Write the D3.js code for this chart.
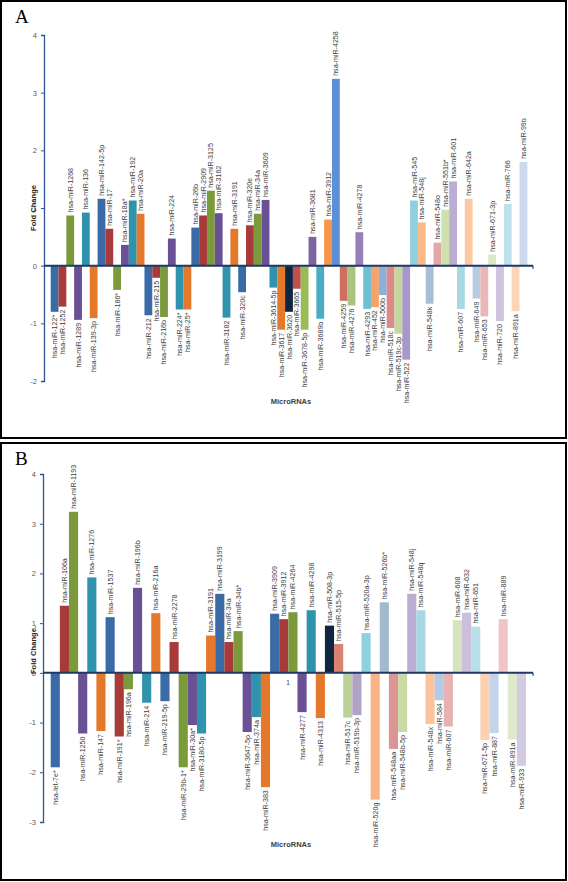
<!DOCTYPE html>
<html><head><meta charset="utf-8">
<script src="https://cdn.jsdelivr.net/npm/d3@7"></script>
<style>body{margin:0;background:#fff}svg{display:block}</style>
</head><body>
<script>
// ---------- DATA ----------
const catsA = ["hsa-miR-122*","hsa-miR-1252","hsa-miR-1268","hsa-miR-1289","hsa-miR-136","hsa-miR-139-3p","hsa-miR-142-5p","hsa-miR-17","hsa-miR-186*","hsa-miR-18a*","hsa-miR-192","hsa-miR-20a","hsa-miR-212","hsa-miR-215","hsa-miR-216b","hsa-miR-224","hsa-miR-224*","hsa-miR-25*","hsa-miR-26b","hsa-miR-2909","hsa-miR-3125","hsa-miR-3162","hsa-miR-3182","hsa-miR-3191","hsa-miR-320c","hsa-miR-320e","hsa-miR-34a","hsa-miR-3609","hsa-miR-3614-5p","hsa-miR-3617","hsa-miR-3620","hsa-miR-3665","hsa-miR-3678-5p","hsa-miR-3681","hsa-miR-3689b","hsa-miR-3912","hsa-miR-4258","hsa-miR-4259","hsa-miR-4276","hsa-miR-4278","hsa-miR-4293","hsa-miR-452","hsa-miR-500b","hsa-miR-518c","hsa-miR-519c-3p","hsa-miR-522","hsa-miR-545","hsa-miR-548j","hsa-miR-548k","hsa-miR-548o","hsa-miR-551b*","hsa-miR-601","hsa-miR-607","hsa-miR-642a","hsa-miR-649","hsa-miR-653","hsa-miR-671-3p","hsa-miR-720","hsa-miR-766","hsa-miR-891a","hsa-miR-99b"];
const valsA = [-0.80,-0.71,0.87,-0.94,0.92,-0.91,1.16,0.64,-0.42,0.36,1.13,0.90,-0.86,-0.21,-0.89,0.47,-0.76,-0.76,0.66,0.87,1.30,0.91,-0.90,0.64,-0.46,0.70,0.90,1.14,-0.38,-1.11,-0.80,-0.40,-1.11,0.50,-0.92,0.80,3.24,-0.61,-0.69,0.58,-0.75,-0.72,-0.51,-1.08,-1.18,-1.63,1.13,0.75,-0.66,0.40,0.97,1.46,-0.75,1.16,-0.57,-0.88,0.19,-0.96,1.07,-0.79,1.80];

const catsB = ["hsa-let-7e*","hsa-miR-106a","hsa-miR-1193","hsa-miR-1250","hsa-miR-1276","hsa-miR-147","hsa-miR-1537","hsa-miR-191*","hsa-miR-196a","hsa-miR-196b","hsa-miR-214","hsa-miR-216a","hsa-miR-219-5p","hsa-miR-2278","hsa-miR-29b-1*","hsa-miR-30a*","hsa-miR-3180-5p","hsa-miR-3191","hsa-miR-3199","hsa-miR-34a","hsa-miR-34b*","hsa-miR-3647-5p","hsa-miR-374a","hsa-miR-383","hsa-miR-3909","hsa-miR-3912","hsa-miR-4264","hsa-miR-4277","hsa-miR-4298","hsa-miR-4313","hsa-miR-508-3p","hsa-miR-515-5p","hsa-miR-517c","hsa-miR-519b-3p","hsa-miR-520a-3p","hsa-miR-520g","hsa-miR-526b*","hsa-miR-548aa","hsa-miR-548b-5p","hsa-miR-548j","hsa-miR-548q","hsa-miR-548x","hsa-miR-584","hsa-miR-607","hsa-miR-608","hsa-miR-632","hsa-miR-651","hsa-miR-671-5p","hsa-miR-887","hsa-miR-889","hsa-miR-891a","hsa-miR-933"];
const valsB = [-1.90,1.35,3.24,-1.22,1.92,-1.17,1.12,-1.28,-0.33,1.71,-0.60,1.20,-0.57,0.62,-1.90,-1.05,-1.22,0.75,1.59,0.62,0.84,-1.19,-0.89,-2.30,1.19,1.08,1.22,-0.79,1.26,-0.91,0.95,0.58,-0.90,-0.85,0.80,-2.55,1.42,-1.53,-1.19,1.59,1.26,-1.03,-0.55,-1.08,1.06,1.21,0.93,-1.35,-1.21,1.08,-1.34,-1.87];

const yTicksA = [4,3,2,1,0,-1,-2];
const yTicksB = [4,3,2,1,0,-1,-2,-3];
const yTitleA = "Fold Change";
const yTitleB = "Fold Change.";
const xTitle = "MicroRNAs";

// ---------- STYLES ----------
const darkCycle = ["#3b6ba6","#a83b39","#7b9a3c","#6a5094","#2f93ad","#e5792b"];
const tailA = ["#0f2540","#c0504d","#9bbb59","#8064a2","#4bacc6","#f79646",
  "#5b8fd6","#cf6f60","#aac47e","#9680b8","#6fbfd4","#f7a266",
  "#8fafd8","#dc8a88","#c4d79b","#a898c8","#8fd0e0","#f9ba8a",
  "#a8bdd6","#e2a7a6","#cfe0ad","#bcaed3","#a8d8e4","#fbc8a2",
  "#b8cbe2","#e8b7b6","#dbe8c3","#cec3dd","#bde2eb","#fcd4b6","#cdd9ef"];
const tailB = ["#0f2540","#d9826f","#bcd199","#b0a2c6","#8fd0e0","#fab483",
  "#a3b9cc","#dc9593","#c9dba5","#bcaed3","#a6d7e3","#fbc49d",
  "#b4c9e2","#e6b3b2","#d6e4bc","#cbbfdc","#b9e0ea","#fcd0b0",
  "#c3d3ea","#efc6c5","#dde9c8","#d3cbe3"];
function colorFor(i, tail){ return i < 30 ? darkCycle[i % 6] : tail[i - 30]; }

const W = 568, H = 882;
const svg = d3.select("body").append("svg").attr("width", W).attr("height", H)
  .style("font-family", "'Liberation Sans', Arial, sans-serif");

function panel(cfg){
  const g = svg.append("g");
  // frame
  g.append("rect").attr("x", 1).attr("y", cfg.top).attr("width", 565).attr("height", cfg.h)
    .attr("fill", "none").attr("stroke", "#000").attr("stroke-width", 2);
  g.append("text").attr("x", 15).attr("y", cfg.top + 22)
    .style("font-family", "'Liberation Serif','Times New Roman',serif")
    .style("font-size", "19px").attr("fill", "#000").text(cfg.letter);

  const y = d3.scaleLinear().domain(cfg.domain).range(cfg.yRange);
  const x = d3.scaleBand().domain(cfg.cats).range(cfg.xRange).padding(0);
  const y0 = y(0), bw = x.bandwidth();

  // y axis
  const ax = g.append("g").attr("transform", `translate(${cfg.axisX},0)`)
    .call(d3.axisLeft(y).tickValues(cfg.ticks).tickSize(3).tickPadding(4).tickFormat(d => String(d)));
  ax.select(".domain").attr("stroke", "#2f5597").attr("stroke-width", 1.3);
  ax.selectAll(".tick line").attr("stroke", "#2f5597");
  ax.selectAll(".tick text").attr("fill", "#595959").style("font-size", "7.5px");

  // bars
  g.selectAll("rect.bar").data(cfg.vals).join("rect").attr("class", "bar")
    .attr("x", (d, i) => x(cfg.cats[i]))
    .attr("width", bw)
    .attr("y", d => Math.min(y(d), y0))
    .attr("height", d => Math.abs(y(d) - y0))
    .attr("fill", (d, i) => colorFor(i, cfg.tail));

  // x axis line at 0
  g.append("line").attr("x1", cfg.axisX).attr("x2", cfg.axisEnd).attr("y1", y0).attr("y2", y0)
    .attr("stroke", "#1f3864").attr("stroke-width", 2);
  g.append("line").attr("x1", cfg.axisEnd).attr("x2", cfg.axisEnd).attr("y1", y0).attr("y2", y0 + 3)
    .attr("stroke", "#1f3864").attr("stroke-width", 1.2);

  // labels
  g.selectAll("text.lbl").data(cfg.vals).join("text").attr("class", "lbl")
    .attr("transform", (d, i) => {
      const cx = x(cfg.cats[i]) + bw / 2;
      const cy = d >= 0 ? y(d) - 3 : y(d) + 3;
      return `translate(${cx},${cy}) rotate(-90)`;
    })
    .attr("dy", "0.35em")
    .attr("text-anchor", d => d >= 0 ? "start" : "end")
    .attr("fill", "#404040").style("font-size", "7.1px")
    .text((d, i) => cfg.cats[i]);

  // titles
  g.append("text").attr("x", 291).attr("y", cfg.xTitleY).attr("text-anchor", "middle")
    .style("font-size", "7.5px").style("font-weight", "bold").attr("fill", "#404040").text(xTitle);
  g.append("text").attr("transform", `translate(36,${cfg.yTitleY}) rotate(-90)`)
    .attr("text-anchor", "middle").style("font-size", "7.6px").style("font-weight", "bold")
    .attr("fill", "#262626").text(cfg.yTitle);
  return {x, y, g};
}

panel({letter: "A", top: 1, h: 437, cats: catsA, vals: valsA, ticks: yTicksA, tail: tailA,
  domain: [-2, 4], yRange: [381, 35], xRange: [50.7, 527.3], axisX: 44, axisEnd: 533,
  xTitleY: 404, yTitleY: 208, yTitle: yTitleA});

const pB = panel({letter: "B", top: 443, h: 437, cats: catsB, vals: valsB, ticks: yTicksB, tail: tailB,
  domain: [-3, 4], yRange: [822, 474], xRange: [50.7, 526], axisX: 43, axisEnd: 533,
  xTitleY: 847, yTitleY: 650, yTitle: yTitleB});

// stray "1" annotation in panel B
pB.g.append("text").attr("x", 288).attr("y", 685).attr("text-anchor", "middle")
  .style("font-size", "6.5px").attr("fill", "#404040").text("1");
</script>
</body></html>
